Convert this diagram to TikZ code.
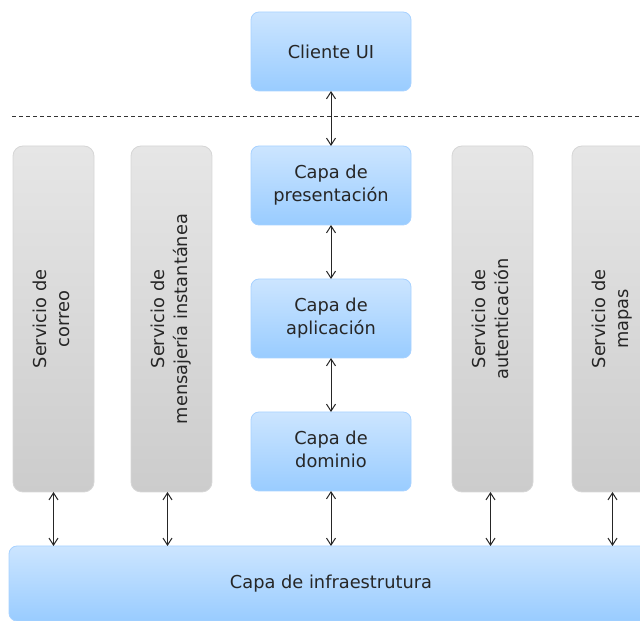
\documentclass[tikz,border=0pt]{standalone}
\usepackage{fontspec}
\setmainfont{DejaVu Sans}
\usepackage{graphicx}
\usetikzlibrary{positioning, arrows.meta}

\definecolor{bluetop}{HTML}{CCE5FF}
\definecolor{bluebot}{HTML}{99CCFF}
\definecolor{blueline}{HTML}{A8D2FF}
\definecolor{graytop}{HTML}{E6E6E6}
\definecolor{graybot}{HTML}{CCCCCC}
\definecolor{grayline}{HTML}{D6D6D6}
\definecolor{txt}{HTML}{262626}

\newcommand{\vtext}[2]{\rotatebox{90}{\begin{tabular}{@{}c@{}}#1\\#2\end{tabular}}}
\newcommand{\htext}[2]{\raisebox{3pt}{\begin{tabular}{@{}c@{}}#1\\#2\end{tabular}}}

\begin{document}
\begin{tikzpicture}[x=1pt, y=1pt, node distance=54pt,
        >={Straight Barb[length=7pt, width=9pt]},
        font=\fontsize{17.8}{22.5}\selectfont, text=txt,
        layer/.style={draw=blueline, line width=0.8pt, rounded corners=8pt,
            top color=bluetop, bottom color=bluebot, minimum width=160pt,
            minimum height=79pt, align=center, inner sep=0pt, outer sep=0pt},
        service/.style={draw=grayline, line width=0.8pt, rounded corners=10pt,
            top color=graytop, bottom color=graybot, minimum width=81pt,
            minimum height=346pt, inner sep=0pt, outer sep=0pt},
        link/.style={<->, line width=1pt, draw=black!85}]

        \useasboundingbox (0,0) rectangle (640,621);

        \node[layer]                    (ui)   at (331,569.5) {Cliente UI};
        \node[layer, below=55pt of ui]  (pres) {\htext{Capa de}{presentación}};
        \node[layer, below=54pt of pres] (app) {\htext{Capa de}{aplicación}};
        \node[layer, below=54pt of app] (dom)  {\htext{Capa de}{dominio}};

        \node[service]                  (mail) at (53.5,302) {\vtext{Servicio de}{correo}};
        \node[service, right=37pt of mail] (chat) {\vtext{Servicio de}{mensajería instantánea}};
        \node[service]                  (auth) at (492.5,302) {\vtext{Servicio de}{autenticación}};
        \node[service, right=39pt of auth] (maps) {\vtext{Servicio de}{mapas}};

        \node[layer, minimum width=644pt, minimum height=75pt]
                                        (infra) at (331,37.5) {\raisebox{4pt}{Capa de infraestrutura}};

        % separador cliente / servidor
        \coordinate (sepL) at (12,505);
        \coordinate (sepR) at (640,505);
        \draw[line width=0.9pt, draw=black!80, dash pattern=on 4pt off 3pt] (sepL) -- (sepR);

        \draw[link] (ui)   -- (pres);
        \draw[link] (pres) -- (app);
        \draw[link] (app)  -- (dom);
        \draw[link] (dom)  -- (dom.south |- infra.north);

        \draw[link] (mail.south) -- (mail.south |- infra.north);
        \draw[link] ([xshift=-4pt]chat.south) -- ([xshift=-4pt]chat.south |- infra.north);
        \draw[link] ([xshift=-2pt]auth.south) -- ([xshift=-2pt]auth.south |- infra.north);
        \draw[link] (maps.south) -- (maps.south |- infra.north);

    \end{tikzpicture}
\end{document}
